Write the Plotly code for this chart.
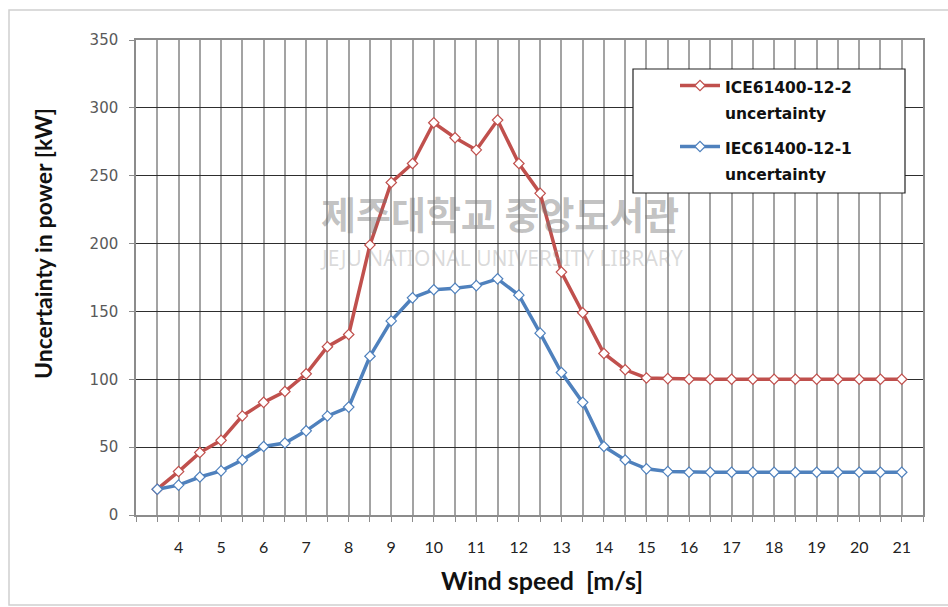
import plotly.graph_objects as go

# Wind speed bins [m/s]
wind_speed = [3.5, 4, 4.5, 5, 5.5, 6, 6.5, 7, 7.5, 8, 8.5, 9, 9.5, 10, 10.5, 11, 11.5, 12,
              12.5, 13, 13.5, 14, 14.5, 15, 15.5, 16, 16.5, 17, 17.5, 18, 18.5, 19, 19.5,
              20, 20.5, 21]

# Uncertainty in power [kW]
unc_12_2 = [19, 32, 46, 55, 73, 83, 91, 104, 124, 133, 199, 245, 259, 289, 278, 269, 291, 259,
            237, 179, 149, 119, 107, 101, 100.5, 100, 100, 100, 100, 100, 100, 100, 100,
            100, 100, 100]
unc_12_1 = [19, 22, 28, 32.5, 40.5, 50.5, 53, 62, 73, 79.5, 117, 143, 160, 166, 167, 169, 174, 162,
            134, 105, 83, 50.5, 40.5, 34, 32, 31.5, 31.5, 31.5, 31.5, 31.5, 31.5, 31.5, 31.5,
            31.5, 31.5, 31.5]

label_12_2 = ["ICE61400-12-2", "uncertainty"]
label_12_1 = ["IEC61400-12-1", "uncertainty"]

# Category grid: one line per half m/s, labels on whole numbers only
x_grid = [3 + 0.5 * i for i in range(38)]
x_labels = [str(int(v)) if (v == int(v) and 4 <= v <= 21) else "" for v in x_grid]

y_ticks = [0, 50, 100, 150, 200, 250, 300, 350]

RED = "#c0504d"
BLUE = "#4f81bd"


def legend_name(lines):
    # smaller glyphs inside a taller line box gives the roomy two-line entry
    return "<br>".join("<span style='font-size:15.5px'>%s</span>" % s for s in lines)


fig = go.Figure()
for i, (lines, vals, col) in enumerate([(label_12_2, unc_12_2, RED), (label_12_1, unc_12_1, BLUE)]):
    fig.add_trace(go.Scatter(
        x=wind_speed, y=vals, name=legend_name(lines), mode="lines+markers",
        legendgroup="g%d" % i,
        line=dict(color=col, width=3.5),
        marker=dict(symbol="diamond", size=8, color="white", line=dict(color=col, width=1.2)),
    ))

L, R, T, B = 136, 25, 40, 92
W, H = 948, 607
pw, ph = W - L - R, H - T - B


def px(x):
    return (x - L) / pw


def py(y):
    return (H - B - y) / ph


TITLE_FONT = dict(family="Liberation Sans Narrow, Lato, sans-serif", color="#111", weight="bold")

fig.update_layout(
    width=W, height=H,
    margin=dict(l=L, r=R, t=T, b=B),
    paper_bgcolor="white", plot_bgcolor="white",
    font=dict(family="Lato, DejaVu Sans, sans-serif", color="#222"),
    showlegend=True,
    legend=dict(
        x=px(675), y=py(66), xanchor="left", yanchor="top",
        bgcolor="rgba(0,0,0,0)", borderwidth=0,
        font=dict(family="DejaVu Sans", size=20, color="#111", weight="bold"),
        valign="top", itemwidth=40, tracegroupgap=6,
    ),
    xaxis=dict(
        range=[3, 21.5], tickmode="array", tickvals=x_grid, ticktext=x_labels,
        showgrid=True, gridcolor="#a3a3a3", gridwidth=1.5,
        showline=True, linecolor="#8c8c8c", linewidth=1.5, mirror=True,
        ticks="outside", ticklen=5, tickcolor="#8c8c8c",
        tickfont=dict(family="Liberation Sans Narrow, Lato, sans-serif", size=16, color="#222"),
        ticklabelstandoff=12,
        zeroline=False,
    ),
    yaxis=dict(
        range=[0, 350], tickmode="array", tickvals=y_ticks,
        showgrid=True, gridcolor="#2e2e2e", gridwidth=1.2,
        showline=True, linecolor="#8c8c8c", linewidth=1.5, mirror=True,
        ticks="outside", ticklen=5, tickcolor="#8c8c8c",
        tickfont=dict(family="DejaVu Sans", size=15, color="#595959"),
        ticklabelstandoff=8,
        zeroline=True, zerolinecolor="#2e2e2e", zerolinewidth=1.2,
    ),
    shapes=[
        # legend frame
        dict(type="rect", xref="paper", yref="paper",
             x0=px(633), x1=px(905), y0=py(193), y1=py(69),
             line=dict(color="#222", width=1.2), fillcolor="white", layer="above"),
        # outer chart frame
        dict(type="rect", xref="paper", yref="paper",
             x0=px(9), x1=px(960), y0=py(605), y1=py(10),
             line=dict(color="#d0d0d0", width=1.5), layer="below"),
    ],
    annotations=[
        dict(text="Wind speed  [m/s]", xref="paper", yref="paper",
             x=px(542), y=py(580), xanchor="center", yanchor="middle", showarrow=False,
             font=dict(size=25, **TITLE_FONT)),
        dict(text="Uncertainty in power [kW]", xref="paper", yref="paper",
             x=px(43), y=py(244), xanchor="center", yanchor="middle", showarrow=False,
             textangle=-90, font=dict(size=23, **TITLE_FONT)),
        dict(text="제주대학교 중앙도서관", xref="paper", yref="paper",
             x=px(500), y=py(212), xanchor="center", yanchor="middle", showarrow=False,
             font=dict(family="Noto Sans CJK KR", size=38, color="rgba(120,120,120,0.45)",
                       weight="bold")),
        dict(text="JEJU NATIONAL UNIVERSITY LIBRARY", xref="paper", yref="paper",
             x=px(501), y=py(258), xanchor="center", yanchor="middle", showarrow=False,
             font=dict(family="Noto Sans", size=21, color="rgba(150,150,150,0.35)")),
    ],
)

fig.write_html("out.html")
